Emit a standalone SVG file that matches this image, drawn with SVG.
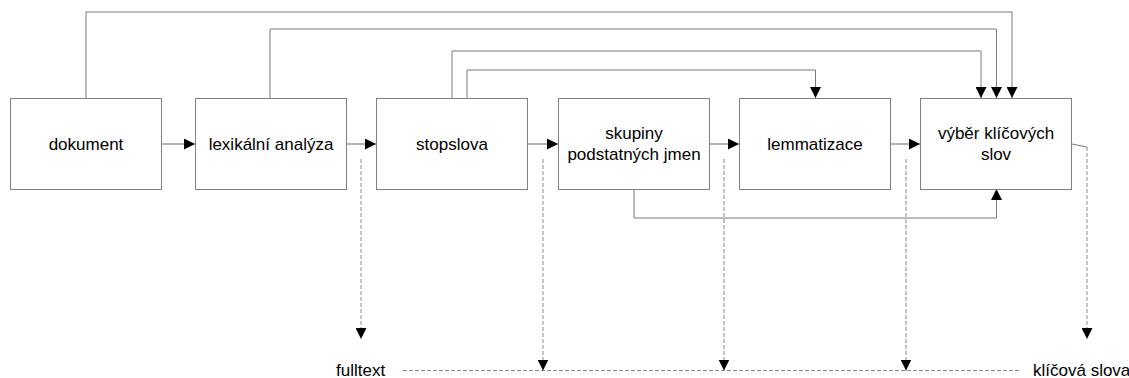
<svg xmlns="http://www.w3.org/2000/svg" width="1129" height="378" viewBox="0 0 1129 378">
<style>
.box{fill:#fff;stroke:#808080;stroke-width:1}
.t{font-family:"Liberation Sans",Arial,sans-serif;font-size:17px;fill:#000;text-anchor:middle}
.lb{font-family:"Liberation Sans",Arial,sans-serif;font-size:17px;fill:#000}
.c{fill:none;stroke:#7a7a7a;stroke-width:1}
.h{fill:none;stroke:#9a9a9a;stroke-width:1.5}
.d{fill:none;stroke:#8a8a8a;stroke-width:1;stroke-dasharray:4,2}
</style>
<defs>
<marker id="ah" markerUnits="userSpaceOnUse" markerWidth="11" markerHeight="11" refX="11" refY="5.5" orient="auto">
<path d="M0,0 L11,5.5 L0,11 Z" fill="#000"/>
</marker>
</defs>
<g id="connectors">
<path class="h" d="M162,144 H195" marker-end="url(#ah)"/>
<path class="h" d="M346,144 H376" marker-end="url(#ah)"/>
<path class="h" d="M528,144 H558" marker-end="url(#ah)"/>
<path class="h" d="M709,144 H739" marker-end="url(#ah)"/>
<path class="h" d="M890,144 H920" marker-end="url(#ah)"/>
<path class="c" d="M86,98 V12 H1012 V98" marker-end="url(#ah)"/>
<path class="c" d="M270,98 V29 H996.5 V98" marker-end="url(#ah)"/>
<path class="c" d="M452,98 V51 H981 V98" marker-end="url(#ah)"/>
<path class="c" d="M467,98 V70 H815.5 V98" marker-end="url(#ah)"/>
<path class="c" d="M634,189 V218 H996.5 V189" marker-end="url(#ah)"/>
<path class="d" d="M361,159 V339" marker-end="url(#ah)"/>
<path class="d" d="M543,159 V370.5" marker-end="url(#ah)"/>
<path class="d" d="M724,159 V370.5" marker-end="url(#ah)"/>
<path class="d" d="M906,159 V370.5" marker-end="url(#ah)"/>
<path class="c" d="M1072,144 L1087,147"/>
<path class="d" d="M1087,147 V339" marker-end="url(#ah)"/>
<path class="d" d="M403,370.5 H1020"/>
</g>
<g id="dokument"><rect class="box" x="10.5" y="98.5" width="151" height="91"/><text class="t" x="86" y="150">dokument</text></g>
<g id="lexikalni"><rect class="box" x="195.5" y="98.5" width="151" height="91"/><text class="t" x="271" y="150">lexikální analýza</text></g>
<g id="stopslova"><rect class="box" x="376.5" y="98.5" width="151" height="91"/><text class="t" x="452" y="150">stopslova</text></g>
<g id="skupiny"><rect class="box" x="558.5" y="98.5" width="151" height="91"/><text class="t" x="634" y="139">skupiny</text><text class="t" x="634" y="160">podstatných jmen</text></g>
<g id="lemmatizace"><rect class="box" x="739.5" y="98.5" width="151" height="91"/><text class="t" x="815" y="150">lemmatizace</text></g>
<g id="vyber"><rect class="box" x="920.5" y="98.5" width="151" height="91"/><text class="t" x="996" y="139">výběr klíčových</text><text class="t" x="996" y="160">slov</text></g>
<g id="fulltext"><text class="lb" x="336" y="376">fulltext</text></g>
<g id="klicova"><text class="lb" x="1033" y="376">klíčová slova</text></g>
</svg>
